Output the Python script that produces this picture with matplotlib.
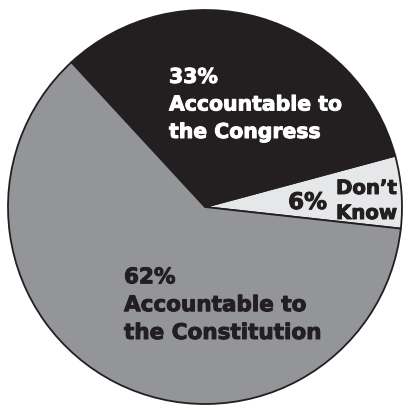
import matplotlib
matplotlib.use("Agg")
import matplotlib.pyplot as plt
import matplotlib.patheffects as pe

labels = ["Don't Know", "Accountable to the Congress", "Accountable to the Constitution"]
values = [6, 33, 62]
colors = ["#e6e7e8", "#231f20", "#939598"]

W, H = 404, 410
fig = plt.figure(figsize=(W / 100, H / 100), dpi=100)
ax = fig.add_axes([0, 0, 1, 1])
ax.pie(values, colors=colors, startangle=-6.3, counterclock=True,
       center=(205, H - 208), radius=197,
       wedgeprops=dict(edgecolor="#231f20", linewidth=1.3))
ax.set_xlim(0, W)
ax.set_ylim(0, H)
ax.set_aspect("equal")
ax.axis("off")

font = dict(family="DejaVu Sans", fontweight="bold")

def stroke(c):
    return [pe.withStroke(linewidth=0.7, foreground=c)]

ax.text(169, H - 139, "33%\nAccountable to\nthe Congress", color="white",
        fontsize=14.7, ha="left", va="baseline", linespacing=1.57,
        multialignment="left", path_effects=stroke("white"), **font)
ax.text(124, H - 340, "62%\nAccountable to\nthe Constitution", color="#231f20",
        fontsize=15.5, ha="left", va="baseline", linespacing=1.49,
        multialignment="left", path_effects=stroke("#231f20"), **font)
ax.text(327, H - 210, "6%", color="#231f20", fontsize=16.5,
        ha="right", va="baseline", path_effects=stroke("#231f20"), **font)
ax.text(336, H - 220, "Don\u2019t\nKnow", color="#231f20", fontsize=14.2,
        ha="left", va="baseline", linespacing=1.40,
        path_effects=stroke("#231f20"), **font)

fig.savefig("out.png", dpi=100)
